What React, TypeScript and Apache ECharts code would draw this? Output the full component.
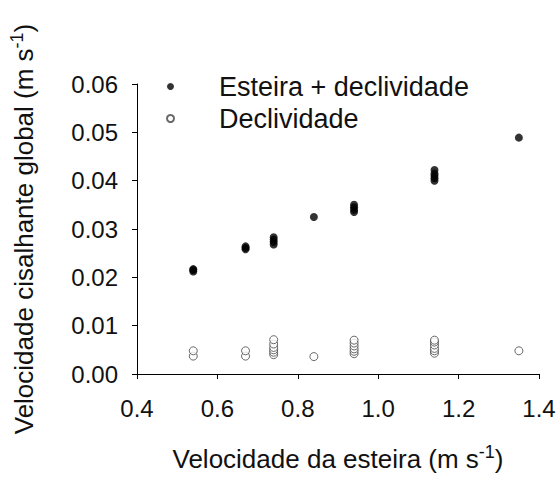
import React, { useEffect, useRef } from "react";
import * as echarts from "echarts";

const xTicks = [0.4, 0.6, 0.8, 1.0, 1.2, 1.4];
const yTicks = [0.0, 0.01, 0.02, 0.03, 0.04, 0.05, 0.06];

const filledX = [
  0.54, 0.54, 0.54,
  0.67, 0.67, 0.67,
  0.74, 0.74, 0.74, 0.74,
  0.84,
  0.94, 0.94, 0.94, 0.94,
  1.14, 1.14, 1.14, 1.14, 1.14,
  1.35,
];
const filledY = [
  0.0212, 0.0215, 0.0217,
  0.0258, 0.0261, 0.0264,
  0.0268, 0.0273, 0.0278, 0.0283,
  0.0325,
  0.0335, 0.034, 0.0345, 0.035,
  0.04, 0.0405, 0.041, 0.0415, 0.0422,
  0.0489,
];

const openX = [
  0.54, 0.54,
  0.67, 0.67,
  0.74, 0.74, 0.74, 0.74, 0.74, 0.74,
  0.84,
  0.94, 0.94, 0.94, 0.94, 0.94, 0.94,
  1.14, 1.14, 1.14, 1.14, 1.14, 1.14,
  1.35,
];
const openY = [
  0.0037, 0.0048,
  0.0037, 0.0048,
  0.004, 0.0045, 0.005, 0.0055, 0.0062, 0.0071,
  0.0036,
  0.0042, 0.0047, 0.0052, 0.0058, 0.0064, 0.007,
  0.0043, 0.0048, 0.0053, 0.006, 0.0066, 0.007,
  0.0048,
];

const seriesNames = ["Esteira + declividade", "Declividade"];

export default function App() {
  const ref = useRef<HTMLDivElement>(null);
  useEffect(() => {
    if (!ref.current) return;
    const chart = echarts.init(ref.current, undefined, { renderer: "svg" });
    const font = "'Liberation Sans', Arial, sans-serif";
    const axisCommon = {
      axisLine: { show: true, lineStyle: { color: "#000", width: 1 } },
      axisTick: { show: true, inside: false, length: 5, lineStyle: { color: "#000" } },
      splitLine: { show: false },
    };
    const supStyle = {
      fontSize: 18,
      verticalAlign: "top",
      padding: [0, 0, 14, 0],
      fontFamily: font,
      color: "#111",
    };
    chart.setOption({
      animation: false,
      backgroundColor: "#fff",
      textStyle: { fontFamily: font },
      grid: { left: 134, right: 21, top: 84, bottom: 106 },
      legend: {
        left: 161,
        top: 68,
        orient: "vertical",
        itemWidth: 7,
        itemHeight: 7,
        itemGap: 5,
        icon: "circle",
        textStyle: {
          fontFamily: font,
          fontSize: 27,
          color: "#111",
          padding: [0, 0, 0, 40],
        },
        data: seriesNames,
      },
      xAxis: {
        type: "value",
        min: 0.4,
        max: 1.4,
        interval: 0.2,
        ...axisCommon,
        axisLabel: {
          fontSize: 24,
          color: "#111",
          margin: 22,
          fontFamily: font,
          formatter: (v: number) => v.toFixed(1),
        },
        name: "Velocidade da esteira (m s{sup|-1})",
        nameLocation: "middle",
        nameGap: 69,
        nameTextStyle: {
          fontSize: 26,
          color: "#111",
          fontFamily: font,
          rich: { sup: supStyle },
        },
      },
      yAxis: {
        type: "value",
        min: 0,
        max: 0.06,
        interval: 0.01,
        ...axisCommon,
        axisLabel: {
          fontSize: 24,
          color: "#111",
          margin: 19,
          fontFamily: font,
          formatter: (v: number) => v.toFixed(2),
        },
        name: "Velocidade cisalhante global (m s{sup|-1})",
        nameLocation: "middle",
        nameGap: 97,
        nameTextStyle: {
          fontSize: 26,
          color: "#111",
          fontFamily: font,
          rich: { sup: supStyle },
        },
      },
      series: [
        {
          name: seriesNames[0],
          type: "scatter",
          symbol: "circle",
          symbolSize: 8,
          itemStyle: { color: "#000", borderColor: "#000", borderWidth: 0 },
          data: filledX.map((x, i) => [x, filledY[i]]),
        },
        {
          name: seriesNames[1],
          type: "scatter",
          symbol: "circle",
          symbolSize: 8,
          itemStyle: { color: "#fff", borderColor: "#444", borderWidth: 1 },
          data: openX.map((x, i) => [x, openY[i]]),
        },
      ],
    });
    return () => chart.dispose();
  }, []);
  return (
    <div
      ref={ref}
      style={{ width: 560, height: 480, position: "fixed", left: 0, top: 0 }}
    />
  );
}
